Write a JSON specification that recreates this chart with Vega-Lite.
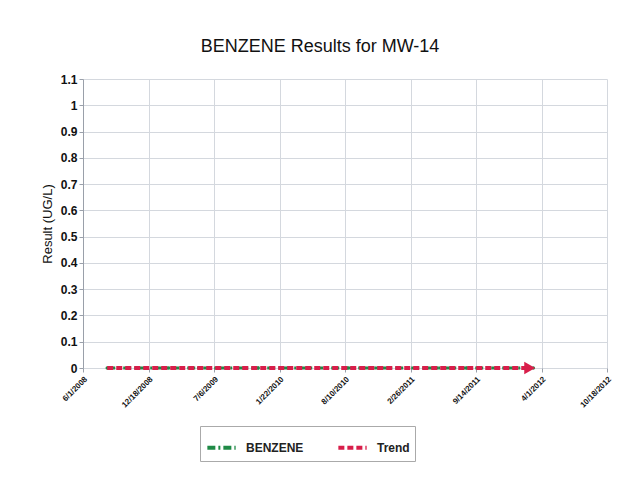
{
  "$schema": "https://vega.github.io/schema/vega-lite/v6.json",
  "autosize": "none",
  "width": 524,
  "height": 289,
  "padding": {"left": 83, "top": 79, "right": 18, "bottom": 112},
  "background": "#ffffff",
  "title": {"text": "BENZENE Results for MW-14", "font": "Liberation Sans", "fontSize": 18, "fontWeight": "normal", "color": "#111111", "anchor": "middle", "dx": -25, "offset": 17},
  "config": {
    "font": "Liberation Sans",
    "view": {"stroke": null},
    "axis": {"gridColor": "#d4d8de", "gridWidth": 1, "domainColor": "#9aa0aa", "tickColor": "#9aa0aa", "labelColor": "#111111"}
  },
  "datasets": {
    "obs": [
      {"date": "2008-08-14", "result": 0, "series": "BENZENE"},
      {"date": "2008-11-12", "result": 0, "series": "BENZENE"},
      {"date": "2009-02-18", "result": 0, "series": "BENZENE"},
      {"date": "2009-05-20", "result": 0, "series": "BENZENE"},
      {"date": "2009-08-19", "result": 0, "series": "BENZENE"},
      {"date": "2009-11-18", "result": 0, "series": "BENZENE"},
      {"date": "2010-02-17", "result": 0, "series": "BENZENE"},
      {"date": "2010-05-19", "result": 0, "series": "BENZENE"},
      {"date": "2010-08-18", "result": 0, "series": "BENZENE"},
      {"date": "2010-11-17", "result": 0, "series": "BENZENE"},
      {"date": "2011-02-16", "result": 0, "series": "BENZENE"},
      {"date": "2011-05-18", "result": 0, "series": "BENZENE"},
      {"date": "2011-08-17", "result": 0, "series": "BENZENE"},
      {"date": "2011-11-16", "result": 0, "series": "BENZENE"},
      {"date": "2012-03-07", "result": 0, "series": "BENZENE"}
    ],
    "trend": [
      {"date": "2008-08-14", "result": 0, "series": "Trend"},
      {"date": "2012-02-25", "result": 0, "series": "Trend"}
    ],
    "arrow": [
      {"date": "2012-02-25", "result": 0, "series": "Trend"}
    ]
  },
  "encoding": {
    "x": {
      "field": "date", "type": "temporal",
      "scale": {"type": "utc", "domain": [{"year": 2008, "month": 6, "date": 1, "utc": true}, {"year": 2012, "month": 10, "date": 18, "utc": true}]},
      "axis": {
        "title": null,
        "values": [
          {"year": 2008, "month": 6, "date": 1, "utc": true},
          {"year": 2008, "month": 12, "date": 18, "utc": true},
          {"year": 2009, "month": 7, "date": 6, "utc": true},
          {"year": 2010, "month": 1, "date": 22, "utc": true},
          {"year": 2010, "month": 8, "date": 10, "utc": true},
          {"year": 2011, "month": 2, "date": 26, "utc": true},
          {"year": 2011, "month": 9, "date": 14, "utc": true},
          {"year": 2012, "month": 4, "date": 1, "utc": true},
          {"year": 2012, "month": 10, "date": 18, "utc": true}
        ],
        "labelExpr": "utcFormat(datum.value, '%-m/%-d/%Y')",
        "labelAngle": -45, "labelFontSize": 8, "labelFontWeight": "bold", "labelOverlap": false, "labelFlush": false,
        "domain": false, "ticks": true, "tickSize": 4, "grid": true, "labelPadding": 3
      }
    },
    "y": {
      "field": "result", "type": "quantitative",
      "scale": {"domain": [0, 1.1], "nice": false},
      "axis": {
        "title": "Result (UG/L)", "titleFontSize": 13, "titleFontWeight": "normal", "titleColor": "#111111", "titlePadding": 6,
        "values": [0, 0.1, 0.2, 0.3, 0.4, 0.5, 0.6, 0.7, 0.8, 0.9, 1, 1.1],
        "format": "~g", "labelFontSize": 12, "labelFontWeight": "bold", "grid": true, "tickSize": 4
      }
    },
    "color": {
      "field": "series", "type": "nominal",
      "scale": {"domain": ["BENZENE", "Trend"], "range": ["#1f8a46", "#d81e4a"]},
      "legend": {
        "title": null, "orient": "none", "legendX": 117, "legendY": 347, "direction": "horizontal",
        "symbolType": "stroke", "symbolStrokeWidth": 4, "symbolSize": 800,
        "labelFontSize": 12, "labelFontWeight": "bold", "labelColor": "#222222", "labelOffset": 8,
        "strokeColor": "#aaaaaa", "padding": 5, "columnPadding": 26, "fillColor": "#ffffff", "offset": 0
      }
    },
    "strokeDash": {
      "field": "series", "type": "nominal",
      "scale": {"domain": ["BENZENE", "Trend"], "range": [[8, 3, 2, 3], [6, 3]]},
      "legend": null
    }
  },
  "layer": [
    {"data": {"name": "obs"}, "mark": {"type": "line", "strokeWidth": 3, "point": {"filled": true, "size": 12}}},
    {"data": {"name": "trend"}, "mark": {"type": "line", "strokeWidth": 4}},
    {"data": {"name": "arrow"}, "mark": {"type": "point", "shape": "triangle-right", "filled": true, "size": 160, "opacity": 1}, "encoding": {"strokeDash": {"value": [1, 0]}}}
  ]
}
